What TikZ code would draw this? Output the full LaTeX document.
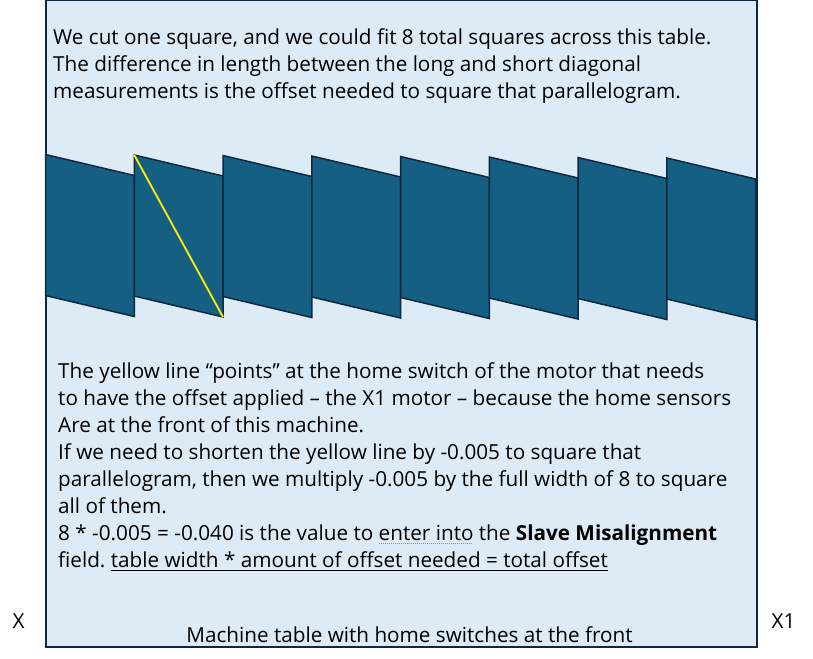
\documentclass[tikz,border=0pt]{standalone}
\usepackage{fontspec}
\setmainfont{Open Sans}
\usetikzlibrary{positioning}
\definecolor{tablefill}{HTML}{DDEBF7}
\definecolor{tableline}{HTML}{0E2841}
\definecolor{squarefill}{HTML}{156082}
\definecolor{gramcol}{HTML}{C09000}
\newcommand\gramline[1]{\setbox0\hbox{#1}\leavevmode\rlap{\copy0}\lower3.5pt\hbox to\wd0{\color{gramcol}\xleaders\hbox{\rule{1pt}{1pt}\kern1pt}\hfil}}
\newcommand\plainline[1]{\setbox0\hbox{#1}\leavevmode\rlap{\copy0}\rule[-4pt]{\wd0}{1.2pt}}
\frenchspacing
\tikzset{
x=1pt, y=-1pt, % one unit per pixel of the reference
table/.style={draw=tableline, line width=2pt, fill=tablefill}, % the machine table
square/.style={draw=tableline, line width=1.5pt, fill=squarefill}, % each cut square
diag/.style={draw=yellow, line width=1.8pt}, % the long diagonal
note/.style={anchor=north west, inner sep=0pt, align=left, font=\fontsize{20.7}{27}\selectfont},
label/.style={anchor=base, inner sep=0pt, font=\fontsize{20.7}{25}\selectfont},
}
\begin{document}
\begin{tikzpicture}
\useasboundingbox (0,0) rectangle (813,658);
\path[table] (45.5,0.5) rectangle (756.5,646.5);
% the eight squares across the table
\foreach \i in {0,...,7} {
  \pgfmathsetmacro\xl{45.5+88.75*\i}
  \pgfmathsetmacro\xr{\xl+88.75}
  \pgfmathsetmacro\yt{154.5+0.5*\i}
  \coordinate (p\i-tl) at (\xl,\yt);
  \coordinate (p\i-tr) at (\xr,\yt+21);
  \coordinate (p\i-br) at (\xr,\yt+162);
  \coordinate (p\i-bl) at (\xl,\yt+141);
  \path[square] (p\i-tl) -- (p\i-tr) -- (p\i-br) -- (p\i-bl) -- cycle;
}
\draw[diag] (p1-tl) -- (p1-br);
\node[note] (intro) at (53,28.4) {We cut one square, and we could fit 8 total squares across this table.\\
The difference in length between the long and short diagonal\\
measurements is the offset needed to square that parallelogram.};
\node[note] (explain) at (58,362.4) {The yellow line “points” at the home switch of the motor that needs\\
to have the offset applied – the X1 motor – because the home sensors\\
Are at the front of this machine.\\
If we need to shorten the yellow line by -0.005 to square that\\
parallelogram, then we multiply -0.005 by the full width of 8 to square\\
all of them.\\
8 * -0.005 = -0.040 is the value to \gramline{enter into} the \textbf{Slave Misalignment}\\
field. \plainline{table width * amount of offset needed = total offset}};
\node[label] (caption) at (409.5,642) {Machine table with home switches at the front};
\node[label] (xlabel) at (18.5,628) {X};
\node[label] (xonelabel) at (783.5,628) {X1};
\end{tikzpicture}
\end{document}
